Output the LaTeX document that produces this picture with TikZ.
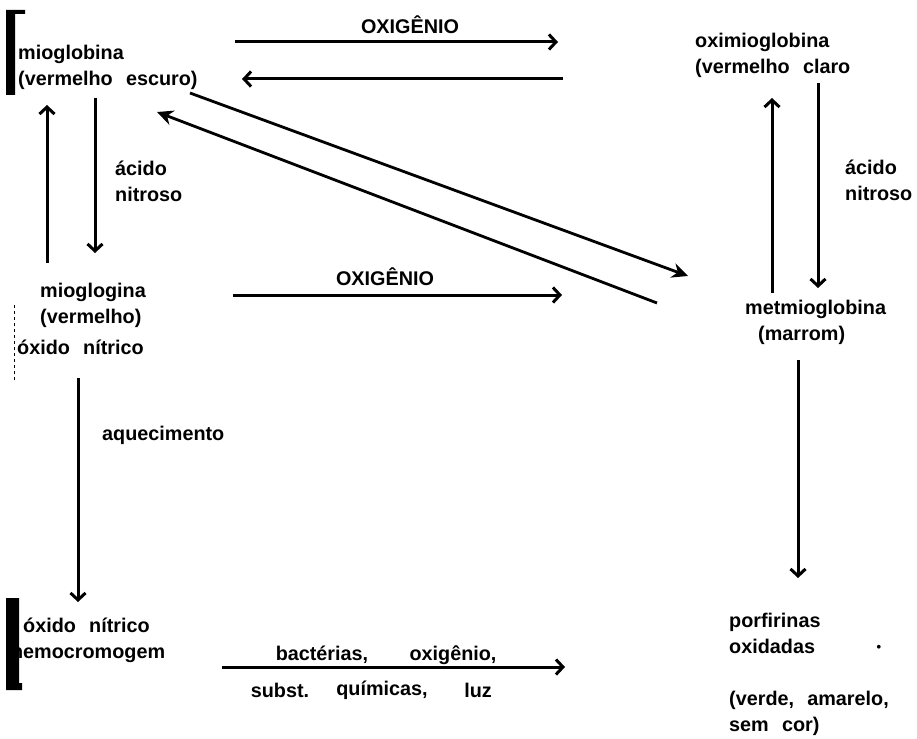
\documentclass[tikz,border=0pt]{standalone}
\usepackage{fontspec}
\setmainfont{Liberation Sans}[WordSpace=2.4]
\usetikzlibrary{arrows.meta}

\begin{document}
\begin{tikzpicture}[x=1pt, y=-1pt,
  every node/.style = {inner sep=0pt, align=left, font=\fontsize{19.8}{26}\selectfont\bfseries},
  seta/.style = {line width=3pt, -{Straight Barb[length=7pt,width=15pt]}},
  diag/.style = {line width=2.8pt, -{Stealth[length=16pt,width=15pt]}}]
  \useasboundingbox (0,0) rectangle (917,738);
  \fill (6,10) rectangle (15,95) (6,10) rectangle (25,14);
  \fill (6,598) rectangle (19,690) (6,683) rectangle (22,690);
  \draw[line width=0.8pt, dashed] (14,305) -- (14,382);
  \node[anchor=west] (mio) at (18,67) {mioglobina\\(vermelho escuro)};
  \node[anchor=west] (oxi) at (695,55) {oximioglobina\\(vermelho claro};
  \node[anchor=west] (miov) at (40,305) {mioglogina\\(vermelho)};
  \node[anchor=west] (nitr) at (17,347) {óxido nítrico};
  \node[anchor=west] (met) at (745,322) {metmioglobina\\\hspace*{13pt}(marrom)};
  \node[anchor=west] (hemo) at (23,640) {óxido nítrico\\\llap{h}emocromogem};
  \node[anchor=north west] (por) at (729,613) {porfirinas\\oxidadas\\[26pt](verde, amarelo,\\sem cor)};
  \node (ponto) at (879,648) {\fontsize{13}{13}\selectfont •};
  \node (ox1) at (410,25) {OXIGÊNIO};
  \node (ox2) at (385,277) {OXIGÊNIO};
  \node[anchor=west] (acid1) at (115,181) {ácido\\nitroso};
  \node[anchor=west] (acid2) at (845,180) {ácido\\nitroso};
  \node[anchor=west] (aquec) at (102,435) {aquecimento};
  \node (bact) at (322,655) {bactérias,};
  \node (oxig) at (453,655) {oxigênio,};
  \node (subst) at (280,690) {subst.};
  \node (quim) at (382,690) {químicas,};
  \node (luz) at (478,690) {luz};
  \coordinate (a1) at (235,42);  \coordinate (b1) at (558,42);
  \coordinate (a2) at (563,79);  \coordinate (b2) at (242,79);
  \coordinate (a3) at (190,93);  \coordinate (b3) at (688,276);
  \coordinate (a4) at (657,303); \coordinate (b4) at (157,112);
  \coordinate (a5) at (47,263);  \coordinate (b5) at (47,105);
  \coordinate (a6) at (95,98);   \coordinate (b6) at (95,253);
  \coordinate (a7) at (233,295); \coordinate (b7) at (562,295);
  \coordinate (a8) at (772,293); \coordinate (b8) at (772,98);
  \coordinate (a9) at (818,83);  \coordinate (b9) at (818,288);
  \coordinate (a10) at (78,378); \coordinate (b10) at (78,602);
  \coordinate (a11) at (222,667); \coordinate (b11) at (565,667);
  \coordinate (a12) at (798,360); \coordinate (b12) at (798,578);
  \foreach \i in {1,2,5,6,7,8,9,10,11,12}
    \draw[seta] (a\i) -- (b\i);
  \draw[diag] (a3) -- (b3);
  \draw[diag] (a4) -- (b4);
\end{tikzpicture}
\end{document}
